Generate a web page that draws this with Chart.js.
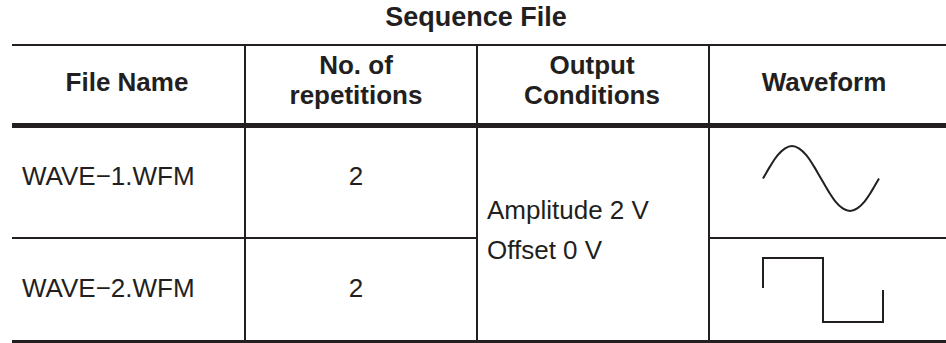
<!DOCTYPE html>
<html lang="en">
<head>
    <meta charset="UTF-8">
    <title>Sequence File</title>
    <style>
        body { margin: 0; background: #fff; }
        #page {
            position: relative; width: 946px; height: 343px; overflow: hidden;
            font-family: "Liberation Sans", Arial, sans-serif; color: #231f20;
        }
        .rule { position: absolute; background: #231f20; }
        .txt { position: absolute; white-space: nowrap; font-size: 26px; line-height: 26px; }
        .head { font-weight: bold; text-align: center; width: 220px; }
        .mid { text-align: center; width: 200px; }
        canvas { position: absolute; }
    </style>
</head>
<body>
    <div id="page">
        <canvas id="sineChart" width="136" height="85" style="left:753px; top:136px;"></canvas>
        <canvas id="squareChart" width="140" height="84" style="left:753px; top:248px;"></canvas>
    </div>
    <script src="https://cdn.jsdelivr.net/npm/chart.js"></script>
    <script>
        var title = "Sequence File";
        var headers = ["File Name", "No. of\nrepetitions", "Output\nConditions", "Waveform"];
        var fileNames = ["WAVE\u22121.WFM", "WAVE\u22122.WFM"];
        var repetitions = [2, 2];
        var conditions = ["Amplitude 2 V", "Offset 0 V"];

        // waveform samples
        var sineX = [0, 1, 2, 3, 4, 5, 6, 7, 8, 9, 10, 11, 12, 13, 14, 15, 16];
        var sineY = [0, 0.38, 0.71, 0.92, 1, 0.92, 0.71, 0.38, 0, -0.38, -0.71, -0.92, -1, -0.92, -0.71, -0.38, 0];
        var squareX = [0, 0, 1, 1, 2, 2];
        var squareY = [0.06, 1, 1, -1, -1, 0];

        var page = document.getElementById("page");

        function rule(x, y, w, h) {
            var d = document.createElement("div");
            d.className = "rule";
            d.style.left = x + "px"; d.style.top = y + "px";
            d.style.width = w + "px"; d.style.height = h + "px";
            page.appendChild(d);
        }

        function text(str, cls, x, y, extra) {
            var d = document.createElement("div");
            d.className = "txt " + cls;
            d.style.left = x + "px"; d.style.top = y + "px";
            if (extra) d.style.cssText += extra;
            d.textContent = str;
            page.appendChild(d);
        }

        // table lines
        rule(12, 44, 934, 2);
        rule(12, 123, 934, 5);
        rule(12, 237, 465, 2);
        rule(709, 237, 237, 2);
        rule(12, 340, 934, 3);
        rule(244, 46, 2, 294);
        rule(476, 46, 2, 294);
        rule(708, 46, 2, 294);

        text(title, "head", 366, 4, "font-size:27px; line-height:27px;");

        // header cells, two-line ones split into separate lines
        var headCenters = [127, 356, 592, 824];
        for (var i = 0; i < headers.length; i++) {
            var lines = headers[i].split("\n");
            if (lines.length == 1) {
                text(lines[0], "head", headCenters[i] - 110, 69);
            } else {
                text(lines[0], "head", headCenters[i] - 110, 52);
                text(lines[1], "head", headCenters[i] - 110, 82);
            }
        }

        var rowCenters = [176, 288];
        for (var i = 0; i < fileNames.length; i++) {
            text(fileNames[i], "", 22, rowCenters[i] - 13);
            text(String(repetitions[i]), "mid", 256, rowCenters[i] - 13);
        }
        text(conditions[0], "", 487, 197);
        text(conditions[1], "", 487, 237);

        function waveChart(id, xs, ys, xMax, tension) {
            var pts = [];
            for (var i = 0; i < xs.length; i++) pts.push({ x: xs[i], y: ys[i] });
            new Chart(document.getElementById(id), {
                type: "scatter",
                data: {
                    datasets: [{
                        data: pts,
                        showLine: true,
                        borderColor: "#231f20",
                        borderWidth: 2,
                        pointRadius: 0,
                        tension: tension,
                        clip: false
                    }]
                },
                options: {
                    responsive: false,
                    animation: false,
                    layout: { padding: 10 },
                    plugins: { legend: { display: false }, tooltip: { enabled: false } },
                    scales: {
                        x: { type: "linear", min: 0, max: xMax, display: false },
                        y: { min: -1, max: 1, display: false }
                    }
                }
            });
        }

        waveChart("sineChart", sineX, sineY, 16, 0.4);
        waveChart("squareChart", squareX, squareY, 2, 0);
    </script>
</body>
</html>
